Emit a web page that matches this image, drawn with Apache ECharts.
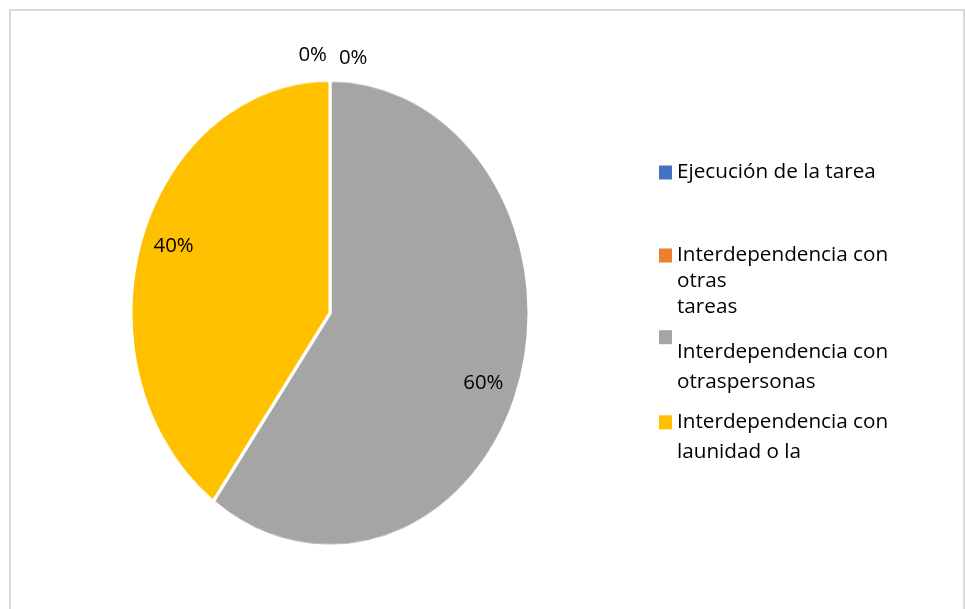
<!DOCTYPE html>
<html><head><meta charset="utf-8">
<script src="https://cdn.jsdelivr.net/npm/echarts@6/dist/echarts.min.js"></script>
<style>
html,body{margin:0;padding:0;background:#fff;}
#wrap{position:relative;width:965px;height:609px;overflow:hidden;background:#fff;}
#pie{position:absolute;left:129.5px;top:112.5px;width:400px;height:400px;transform:scaleY(1.171);transform-origin:50% 50%;}
#main{position:absolute;left:0;top:0;width:965px;height:609px;}
</style></head><body>
<div id="wrap"><div id="pie"></div><div id="main"></div></div>
<script>
// ---- data ----
const categories = ['Ejecución de la tarea', 'Interdependencia con\notras\ntareas', 'Interdependencia con\notraspersonas', 'Interdependencia con\nlaunidad o la'];
const values = [0, 0, 60, 40];
const colors = ['#4472C4', '#ED7D31', '#A5A5A5', '#FFC000'];

// ---- style ----
const FONT = 'Open Sans';
const CX = 329.5, CY = 312.5, R = 199, K = 1.171;
// leadLines: empty lines put before the name so the first text line sits where the reference has it
const legendStyle = [
  {top: 159.5, lineHeight: 26, leadLines: 0},
  {top: 190.5, lineHeight: 26, leadLines: 2},
  {top: 277.2, lineHeight: 30, leadLines: 2},
  {top: 377.3, lineHeight: 30, leadLines: 1}
];
const labelShift = {0: {align: 'right', dx: -12, dy: -3.5}, 1: {dx: 0, dy: 0}, 2: {dx: -3, dy: 2}, 3: {dx: 1, dy: 2.5}};

const pieData = categories.map((n, i) => ({name: n, value: values[i], itemStyle: {color: colors[i]}}));

const pieChart = echarts.init(document.getElementById('pie'));
pieChart.setOption({
  animation: false,
  series: [{
    type: 'pie', center: ['50%', '50%'], radius: R, startAngle: 90, clockwise: true,
    silent: true, label: {show: false}, labelLine: {show: false},
    itemStyle: {borderColor: '#fff', borderWidth: 3},
    data: pieData
  }]
});

const main = echarts.init(document.getElementById('main'));
main.setOption({
  animation: false,
  graphic: [{type: 'rect', silent: true, shape: {x: 10, y: 10, width: 954, height: 640},
    style: {fill: 'none', stroke: '#D9D9D9', lineWidth: 2}}],
  legend: categories.map((n, i) => ({
    data: [{name: n, itemStyle: {color: colors[i]}}], orient: 'vertical', left: 659, top: legendStyle[i].top, padding: 0,
    icon: 'rect', itemWidth: 13, itemHeight: 14, selectedMode: false,
    itemStyle: {opacity: 1},
    formatter: name => '\n'.repeat(legendStyle[i].leadLines) + name,
    textStyle: {fontFamily: FONT, fontSize: 20.7, color: '#000', lineHeight: legendStyle[i].lineHeight}
  })),
  series: [{
    type: 'pie', center: [CX, CY], radius: [130, R], startAngle: 87.5, clockwise: true,
    silent: true, avoidLabelOverlap: false,
    label: {show: true, position: 'inside', formatter: '{d}%', fontFamily: FONT, fontSize: 20.4, color: '#000'},
    labelLine: {show: false, length: 18, length2: 0},
    labelLayout: function (p) {
      const r = p.labelRect;
      const mid = r.y + r.height / 2;
      const dy = (mid - CY) * (K - 1);
      const z = labelShift[p.dataIndex];
      const o = {dx: z.dx, dy: dy + z.dy};
      if (z.align) o.align = z.align;
      return o;
    },
    data: categories.map((n, i) => ({
      name: n, value: values[i], itemStyle: {color: 'rgba(0,0,0,0)'},
      label: values[i] === 0 ? {position: 'outside', distanceToLabelLine: 0} : {}
    }))
  }]
});
</script>
</body></html>
